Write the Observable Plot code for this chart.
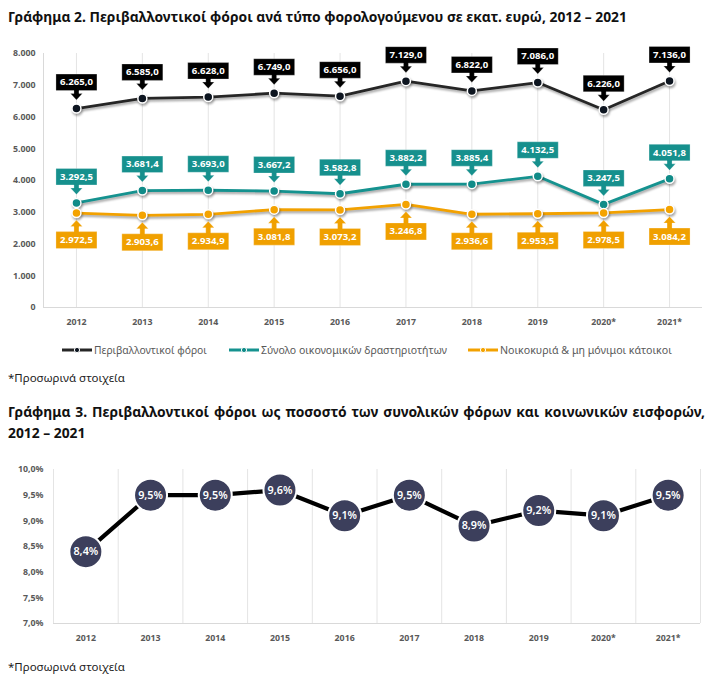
<!DOCTYPE html>
<html><head><meta charset="utf-8">
<script src="https://cdn.jsdelivr.net/npm/d3@7"></script>
<script src="https://cdn.jsdelivr.net/npm/@observablehq/plot@0.6"></script>
<style>
body{margin:0;background:#fff;font-family:"Noto Sans",sans-serif;}
#page{position:relative;width:718px;height:685px;overflow:hidden;background:#fff;}
.abs{position:absolute;white-space:nowrap;}
.title{font-weight:bold;color:#111;font-size:12.5px;line-height:20px;}
.foot{color:#222;font-size:11px;line-height:16px;}
.leg{color:#595959;font-size:10px;line-height:14px;display:flex;align-items:center;}
.leg svg{margin-right:2px;}
svg text{font-family:"Noto Sans",sans-serif;}
</style></head><body><div id="page"></div>
<script>
const years = ["2012","2013","2014","2015","2016","2017","2018","2019","2020*","2021*"];
const envTaxes = [6265.0, 6585.0, 6628.0, 6749.0, 6656.0, 7129.0, 6822.0, 7086.0, 6226.0, 7136.0];
const businessTaxes = [3292.5, 3681.4, 3693.0, 3667.2, 3582.8, 3882.2, 3885.4, 4132.5, 3247.5, 4051.8];
const householdTaxes = [2972.5, 2903.6, 2934.9, 3081.8, 3073.2, 3246.8, 2936.6, 2953.5, 2978.5, 3084.2];
const yTicks1 = [0, 1000, 2000, 3000, 4000, 5000, 6000, 7000, 8000];
const seriesNames = ["Περιβαλλοντικοί φόροι", "Σύνολο οικονομικών δραστηριοτήτων", "Νοικοκυριά & μη μόνιμοι κάτοικοι"];
const sharePct = [8.4, 9.5, 9.5, 9.6, 9.1, 9.5, 8.9, 9.2, 9.1, 9.5];
const yTicks2 = [7.0, 7.5, 8.0, 8.5, 9.0, 9.5, 10.0];
const title1 = "Γράφημα 2. Περιβαλλοντικοί φόροι ανά τύπο φορολογούμενου σε εκατ. ευρώ, 2012 – 2021";
const title2a = "Γράφημα 3. Περιβαλλοντικοί φόροι ως ποσοστό των συνολικών φόρων και κοινωνικών εισφορών,";
const title2b = "2012 – 2021";
const footnote = "*Προσωρινά στοιχεία";

const colors = {
  black: {line: "#262626", dot: "#0d1520", box: "#000000"},
  teal: {line: "#15928f", dot: "#108b88", box: "#16908d"},
  orange: {line: "#f2a100", dot: "#f4a300", box: "#f0a000"}
};

const loc = d3.formatLocale({decimal: ",", thousands: ".", grouping: [3], currency: ["", "€"]});
const f1 = loc.format(",.1f");
const f0 = loc.format(",.0f");
const pf = loc.format(".1f");

const page = document.getElementById("page");
function addDiv(cls, text, left, top, extra) {
  const d = document.createElement("div");
  d.className = "abs " + cls;
  d.textContent = text;
  d.style.left = left + "px";
  d.style.top = top + "px";
  if (extra) Object.assign(d.style, extra);
  page.appendChild(d);
  return d;
}
function fit(el, w) {
  const cur = el.getBoundingClientRect().width;
  const fs = parseFloat(getComputedStyle(el).fontSize);
  el.style.fontSize = (fs * w / cur) + "px";
}

const idx = years.map((_, i) => i);
const toRows = vals => vals.map((v, i) => ({i, v}));

// callout shapes (pixel geometry relative to the point)
const calloutDown = {draw(c) {
  const w = 20.5, top = -34.5, bot = -18, stem = -15, tip = -8.5;
  c.moveTo(-w, top); c.lineTo(w, top); c.lineTo(w, bot); c.lineTo(2.5, bot);
  c.lineTo(2.5, stem); c.lineTo(6, stem); c.lineTo(0, tip); c.lineTo(-6, stem);
  c.lineTo(-2.5, stem); c.lineTo(-2.5, bot); c.lineTo(-w, bot); c.closePath();
}};
const calloutUp = {draw(c) {
  const w = 20.5, top = 35.5, bot = 18.5, stem = 13.5, tip = 7;
  c.moveTo(-w, top); c.lineTo(w, top); c.lineTo(w, bot); c.lineTo(2.5, bot);
  c.lineTo(2.5, stem); c.lineTo(6, stem); c.lineTo(0, tip); c.lineTo(-6, stem);
  c.lineTo(-2.5, stem); c.lineTo(-2.5, bot); c.lineTo(-w, bot); c.closePath();
}};

const series = [
  {rows: toRows(envTaxes), col: colors.black, sym: calloutDown, dy: -26.2},
  {rows: toRows(businessTaxes), col: colors.teal, sym: calloutDown, dy: -26.2},
  {rows: toRows(householdTaxes), col: colors.orange, sym: calloutUp, dy: 27}
];

const marks1 = [
  Plot.ruleX(idx, {y1: 0, y2: 8000, stroke: "#e4e4e4", strokeWidth: 1}),
  Plot.ruleX([-0.5], {y1: 0, y2: 8000, stroke: "#d9d9d9"}),
  Plot.ruleY([0], {stroke: "#d9d9d9"})
];
for (const s of series) marks1.push(Plot.line(s.rows, {x: "i", y: "v", stroke: s.col.line, strokeWidth: 2.8}));
for (const s of series) marks1.push(Plot.dot(s.rows, {x: "i", y: "v", r: 4.5, fill: s.col.dot, stroke: "#fff", strokeWidth: 1.5}));
for (const s of series) {
  marks1.push(Plot.dot(s.rows, {x: "i", y: "v", symbol: s.sym, fill: s.col.box, stroke: "#ffffff", strokeOpacity: 0.35, strokeWidth: 0.8}));
  marks1.push(Plot.text(s.rows, {x: "i", y: "v", text: d => f1(d.v), dy: s.dy, fill: "#fff", fontWeight: "bold", fontSize: 9.6}));
}

const chart1 = Plot.plot({
  width: 718, height: 310,
  marginLeft: 43, marginRight: 16, marginTop: 23, marginBottom: 33,
  style: {fontFamily: "Noto Sans", fontSize: "8.8px", color: "#595959", background: "transparent", overflow: "visible"},
  x: {domain: [-0.5, 9.5], ticks: idx, tickFormat: i => years[i], tickSize: 0, tickPadding: 11, label: null},
  y: {domain: [0, 8000], ticks: yTicks1, tickFormat: v => f0(v), tickSize: 0, tickPadding: 8, label: null},
  marks: marks1
});
chart1.style.position = "absolute";
chart1.style.left = "0px";
chart1.style.top = "30px";
page.appendChild(chart1);

const shareRows = toRows(sharePct);
const gridBounds2 = d3.range(-0.5, 10, 1);
const chart2 = Plot.plot({
  width: 718, height: 190,
  marginLeft: 53, marginRight: 18, marginTop: 14, marginBottom: 22,
  style: {fontFamily: "Noto Sans", fontSize: "8.8px", color: "#595959", background: "transparent", overflow: "visible"},
  x: {domain: [-0.5, 9.5], ticks: idx, tickFormat: i => years[i], tickSize: 0, tickPadding: 11, label: null},
  y: {domain: [7, 10], ticks: yTicks2, tickFormat: v => pf(v) + "%", tickSize: 0, tickPadding: 10, label: null},
  marks: [
    Plot.ruleX(gridBounds2, {y1: 7, y2: 10, stroke: "#e4e4e4"}),
    Plot.ruleY([7], {stroke: "#d9d9d9"}),
    Plot.line(shareRows, {x: "i", y: "v", stroke: "#000", strokeWidth: 4.2}),
    Plot.dot(shareRows, {x: "i", y: "v", r: 16.5, fill: "#3c3f5c", stroke: "#fff", strokeWidth: 2}),
    Plot.text(shareRows, {x: "i", y: "v", text: d => pf(d.v) + "%", fill: "#fff", fontSize: 10.8, fontWeight: 600})
  ]
});
chart2.style.position = "absolute";
chart2.style.left = "0px";
chart2.style.top = "455px";
page.appendChild(chart2);

// bold axis labels
for (const svg of [chart1, chart2]) {
  d3.select(svg).selectAll('g[aria-label$="axis"] text, g[aria-label$="tick label"] text').attr("font-weight", "bold");
}
// soft shadows on lines and points of chart 1
d3.select(chart1).selectAll('g[aria-label="line"], g[aria-label="dot"]')
  .filter((d, i, n) => i < 6)
  .style("filter", "drop-shadow(1.5px 2px 1.2px rgba(0,0,0,0.35))");

// titles, legend, footnotes
const t1 = addDiv("title", title1, 8, 7);
fit(t1, 619);
const t2a = addDiv("title", title2a, 8, 402, {width: "697px", textAlign: "justify", textAlignLast: "justify", whiteSpace: "normal", fontSize: t1.style.fontSize});
const t2b = addDiv("title", title2b, 8, 423, {fontSize: t1.style.fontSize});

const legLefts = [62, 229, 468];
const legTextW = [113, 186, 172];
const legCols = [colors.black, colors.teal, colors.orange];
seriesNames.forEach((name, k) => {
  const d = document.createElement("div");
  d.className = "abs leg";
  d.style.left = legLefts[k] + "px";
  d.style.top = "343px";
  const c = legCols[k];
  d.innerHTML = `<svg width="30" height="10"><line x1="0" x2="30" y1="5" y2="5" stroke="${c.line}" stroke-width="3"/><circle cx="15" cy="5" r="2.6" fill="${c.dot}" stroke="#fff" stroke-width="1"/></svg><span>${name}</span>`;
  page.appendChild(d);
  fit(d.querySelector("span"), legTextW[k]);
});

const fn1 = addDiv("foot", footnote, 8, 370);
fit(fn1, 117);
const fn2 = addDiv("foot", footnote, 8, 659);
fit(fn2, 117);
</script></body></html>
